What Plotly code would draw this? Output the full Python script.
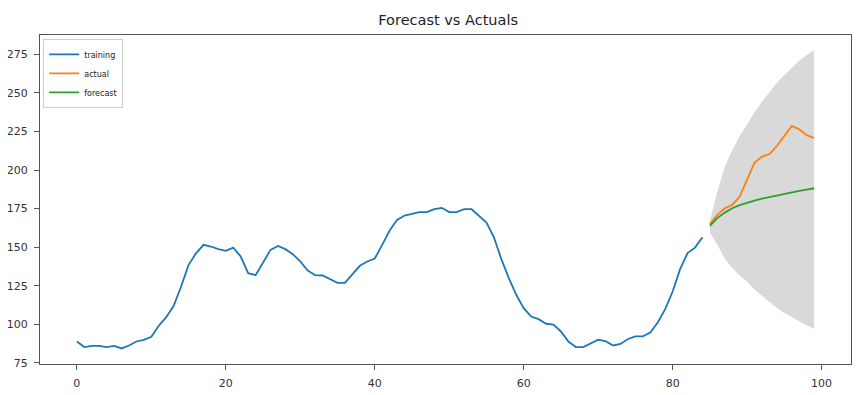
import plotly.graph_objects as go

# ---- data ----
train_x = list(range(0, 85))
train_y = [88.8, 85.2, 86.0, 86.0, 85.2, 86.0, 84.3, 86.2, 88.8, 89.9,
           91.8, 99.0, 104.6, 112.0, 124.5, 138.5, 146.0, 151.5, 150.4, 148.7,
           147.6, 149.7, 143.9, 133.1, 131.8, 140.0, 148.2, 150.8, 148.7, 145.4,
           140.7, 134.8, 131.8, 131.6, 129.4, 126.8, 126.8, 132.5, 137.9, 140.7,
           142.6, 151.5, 160.8, 167.7, 170.5, 171.6, 172.7, 172.7, 174.6, 175.5,
           172.7, 172.7, 174.6, 174.6, 170.5, 165.9, 156.4, 142.2, 129.9, 119.1,
           110.4, 105.0, 103.3, 100.3, 99.8, 95.3, 88.8, 85.2, 85.2, 87.8,
           89.9, 89.0, 86.2, 87.2, 90.4, 92.1, 92.1, 94.6, 101.1, 109.8,
           121.2, 135.7, 146.1, 149.7, 156.4]

test_x = list(range(85, 100))
actual_y = [164.9, 170.9, 175.2, 177.4, 182.8, 194.0, 204.8, 208.7, 210.4, 215.6,
            222.1, 228.6, 226.5, 222.6, 220.8]
forecast_y = [163.8, 168.8, 172.4, 175.2, 177.2, 178.9, 180.2, 181.5, 182.6, 183.7,
              184.5, 185.6, 186.5, 187.3, 188.2]
upper_y = [167.0, 186.0, 202.0, 213.0, 222.0, 230.0, 237.5, 244.5, 250.8, 256.7,
           261.7, 266.6, 270.9, 274.6, 277.9]
lower_y = [159.5, 151.5, 142.5, 136.5, 131.6, 127.5, 122.5, 118.2, 114.4, 110.7,
           107.3, 104.6, 101.8, 99.4, 97.0]

x_ticks = [0, 20, 40, 60, 80, 100]
y_ticks = [75, 100, 125, 150, 175, 200, 225, 250, 275]

fig = go.Figure()

# confidence band
fig.add_trace(go.Scatter(x=test_x, y=lower_y, mode="lines", line=dict(width=0),
                         showlegend=False, hoverinfo="skip"))
fig.add_trace(go.Scatter(x=test_x, y=upper_y, mode="lines", line=dict(width=0),
                         fill="tonexty", fillcolor="rgba(0,0,0,0.15)",
                         showlegend=False, hoverinfo="skip"))

fig.add_trace(go.Scatter(x=train_x, y=train_y, mode="lines", name="training",
                         line=dict(color="#1f77b4", width=1.8)))
fig.add_trace(go.Scatter(x=test_x, y=actual_y, mode="lines", name="actual",
                         line=dict(color="#ff7f0e", width=1.8)))
fig.add_trace(go.Scatter(x=test_x, y=forecast_y, mode="lines", name="forecast",
                         line=dict(color="#2ca02c", width=1.8)))

axis_common = dict(showgrid=False, zeroline=False, showline=True, mirror=True,
                   linecolor="#555555", linewidth=1, ticks="outside", ticklen=5,
                   tickcolor="#555555", ticklabelstandoff=4, automargin=False,
                   tickfont=dict(family="DejaVu Sans", size=11, color="#333333"))

fig.update_xaxes(range=[-4.95, 103.95], tickvals=x_ticks, **axis_common)
fig.update_yaxes(range=[74.2, 287.6], tickvals=y_ticks, **axis_common)

# page body adds an 8px offset, so the figure is sized to fit the window
fig.update_layout(
    width=858, height=387,
    margin=dict(l=32, r=15, t=27, b=31),
    paper_bgcolor="white", plot_bgcolor="white",
    title=dict(text="Forecast vs Actuals", x=0.513, xanchor="center",
               y=1 - 12 / 387, yanchor="middle",
               font=dict(family="DejaVu Sans", size=14.5, color="#222222")),
    legend=dict(x=0.004, y=0.988, xanchor="left", yanchor="top",
                traceorder="normal",
                bgcolor="rgba(255,255,255,0.8)", bordercolor="#cccccc", borderwidth=1,
                font=dict(family="DejaVu Sans", size=8, color="#222222"),
                itemwidth=30, tracegroupgap=0),
    showlegend=True,
)

fig.write_html("out.html")
